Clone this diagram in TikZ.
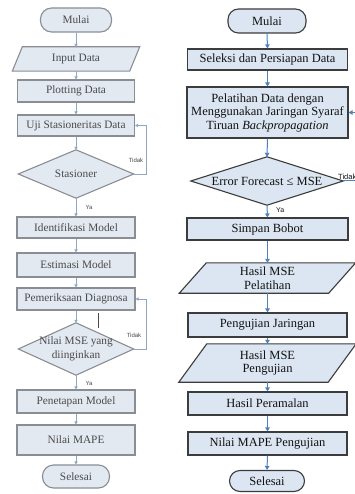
\documentclass[tikz,border=0pt]{standalone}
\usepackage{fontspec}
\setmainfont{Liberation Serif}
\newfontfamily\chartfont{Liberation Serif}
\newfontfamily\labfont{Liberation Sans}
\usetikzlibrary{arrows.meta,backgrounds}
\definecolor{rfill}{HTML}{DCE6F2}
\definecolor{rline}{HTML}{3C3C3C}
\definecolor{rarrow}{HTML}{4F81BD}
\definecolor{rtext}{HTML}{111111}
\definecolor{lfill}{HTML}{E3E9F1}
\definecolor{lline}{HTML}{8A8E94}
\definecolor{ltext}{HTML}{4A4A4A}
\definecolor{larrow}{HTML}{8FA7C7}
\begin{document}
\begin{tikzpicture}[x=1pt,y=-1pt,
  rbase/.style={inner sep=0pt, align=center, text=rtext, font=\chartfont\fontsize{12.5}{13.5}\selectfont},
  rbox/.style={rbase, draw=rline, fill=rfill, line width=1.1pt},
  rterm/.style={rbox, rounded corners=10.5pt},
  rshape/.style={draw=rline, fill=rfill, line width=1.1pt},
  rarr/.style={draw=rarrow, line width=1pt, -{Triangle[length=4pt,width=4.5pt]}},
  lbase/.style={inner sep=0pt, align=center, text=ltext, font=\chartfont\fontsize{11.3}{14}\selectfont},
  lbox/.style={lbase, draw=lline, fill=lfill, line width=1.1pt},
  lterm/.style={lbox, rounded corners=11pt},
  lshape/.style={draw=lline, fill=lfill, line width=1.1pt},
  larr/.style={draw=larrow, line width=0.8pt, -{Triangle[length=3pt,width=3.2pt]}},
  lab/.style={inner sep=0pt, font=\labfont\fontsize{6}{7}\selectfont},
  sz/.style 2 args={minimum width=#1, minimum height=#2},
]
\useasboundingbox (0,0) rectangle (355,494);
\clip (0,0) rectangle (355,494);

% ---------------- left chart ----------------
\node[lterm, sz={71pt}{24pt}] (L1) at (76,20) {Mulai};
\node[lbase, sz={117pt}{24pt}] (L2) at (76,59) {Input Data};
\node[lbox, sz={117pt}{22pt}] (L3) at (76,91) {Plotting Data};
\node[lbox, sz={117pt}{21pt}] (L4) at (76,125.5) {Uji Stasioneritas Data};
\node[lbase, sz={115pt}{48pt}] (L5) at (76,174) {Stasioner};
\node[lbox, sz={118pt}{21pt}] (L6) at (76,227.5) {Identifikasi Model};
\node[lbox, sz={118pt}{24pt}] (L7) at (76,265) {Estimasi Model};
\node[lbox, sz={118pt}{22pt}] (L8) at (76,299) {Pemeriksaan Diagnosa};
\node[lbase, sz={115pt}{52pt}] (L9) at (76,349) {Nilai MSE yang\\diinginkan};
\node[lbox, sz={118pt}{23pt}] (L10) at (76,401.5) {Penetapan Model};
\node[lbox, sz={118pt}{30pt}] (L11) at (76,440) {Nilai MAPE};
\node[lterm, sz={67pt}{23pt}] (L12) at (76,476.5) {Selesai};

\node[lab, text=ltext] (lt1) at (136,160) {Tidak};
\node[lab, text=ltext] (ly1) at (89,207) {Ya};
\node[lab, text=ltext] (lt2) at (134,335) {Tidak};
\node[lab, text=ltext] (ly2) at (89,383) {Ya};

\coordinate (lloop1) at (146,174);
\coordinate (lloop2) at (146,349);

\draw[larr] (L1.south) -- (L2.north);
\draw[larr] (L2.south) -- (L3.north);
\draw[larr] (L3.south) -- (L4.north);
\draw[larr] (L4.south) -- (L5.north);
\draw[larr] (L5.south) -- (L6.north);
\draw[larr] (L6.south) -- (L7.north);
\draw[larr] (L7.south) -- (L8.north);
\draw[larr] (L8.south) -- (L9.north);
\draw[larr] (L9.south) -- (L10.north);
\draw[larr] (L10.south) -- (L11.north);
\draw[larr] (L11.south) -- (L12.north);
\draw[larr] (L5.east) -- (lloop1) |- (L4.east);
\draw[larr] (L9.east) -- (lloop2) |- (L8.east);
\draw[draw=ltext, line width=0.9pt] (98,313) -- (98,328);

% ---------------- right chart ----------------
\node[rterm, sz={78pt}{24pt}] (R1) at (267,21) {Mulai};
\node[rbox, sz={160pt}{21pt}] (R2) at (267.5,59.5) {Seleksi dan Persiapan Data};
\node[rbox, sz={161pt}{51pt}] (R3) at (267.5,112.5) {Pelatihan Data dengan\\Menggunakan Jaringan Syaraf\\Tiruan \textit{Backpropagation}};
\node[rbase, sz={152pt}{48pt}] (R4) at (267,181) {Error Forecast ≤ MSE};
\node[rbox, sz={161pt}{22pt}] (R5) at (267.5,229) {Simpan Bobot};
\node[rbase, sz={149pt}{30pt}] (R6) at (267.5,278) {Hasil MSE\\Pelatihan};
\node[rbox, sz={159pt}{24pt}] (R7) at (267.5,325) {Pengujian Jaringan};
\node[rbase, sz={149pt}{38pt}] (R8) at (267.5,363) {Hasil MSE\\Pengujian};
\node[rbox, sz={159pt}{23pt}] (R9) at (267.5,403.5) {Hasil Peramalan};
\node[rbox, sz={159pt}{23pt}] (R10) at (267.5,443.5) {Nilai MAPE Pengujian};
\node[rterm, sz={75pt}{21pt}] (R11) at (267,481) {Selesai};

\node[lab, anchor=west, text=rtext, font=\labfont\fontsize{7.5}{8}\selectfont] (rt1) at (338,177) {Tidak};
\node[lab, anchor=west, text=rtext, font=\labfont\fontsize{7}{8}\selectfont] (ry1) at (276,210) {Ya};

\coordinate (rloop) at (364,181);

\draw[rarr] (R1.south) -- (R2.north);
\draw[rarr] (R2.south) -- (R3.north);
\draw[rarr] (R3.south) -- (R4.north);
\draw[rarr] (R4.south) -- (R5.north);
\draw[rarr] (R5.south) -- (R6.north);
\draw[rarr] (R6.south) -- (R7.north);
\draw[rarr] (R7.south) -- (R8.north);
\draw[rarr] (R8.south) -- (R9.north);
\draw[rarr] (R9.south) -- (R10.north);
\draw[rarr] (R10.south) -- (R11.north);
\draw[rarr] (R4.east) -- (rloop) |- (R3.east);

% ---------------- shapes behind the texts ----------------
\begin{scope}[on background layer]
  \fill[white] (0,0) rectangle (355,494);
  \draw[lshape] ([xshift=5pt]L2.north west) -- ([xshift=5pt]L2.north east)
     -- ([xshift=-5pt]L2.south east) -- ([xshift=-5pt]L2.south west) -- cycle;
  \draw[lshape] (L5.north) -- (L5.east) -- (L5.south) -- (L5.west) -- cycle;
  \draw[lshape] (L9.north) -- (L9.east) -- (L9.south) -- (L9.west) -- cycle;
  \draw[rshape] (R4.north) -- (R4.east) -- (R4.south) -- (R4.west) -- cycle;
  \draw[rshape] ([xshift=13.5pt]R6.north west) -- ([xshift=13.5pt]R6.north east)
     -- ([xshift=-13.5pt]R6.south east) -- ([xshift=-13.5pt]R6.south west) -- cycle;
  \draw[rshape] ([xshift=14pt]R8.north west) -- ([xshift=14pt]R8.north east)
     -- ([xshift=-14pt]R8.south east) -- ([xshift=-14pt]R8.south west) -- cycle;
\end{scope}
\end{tikzpicture}
\end{document}
